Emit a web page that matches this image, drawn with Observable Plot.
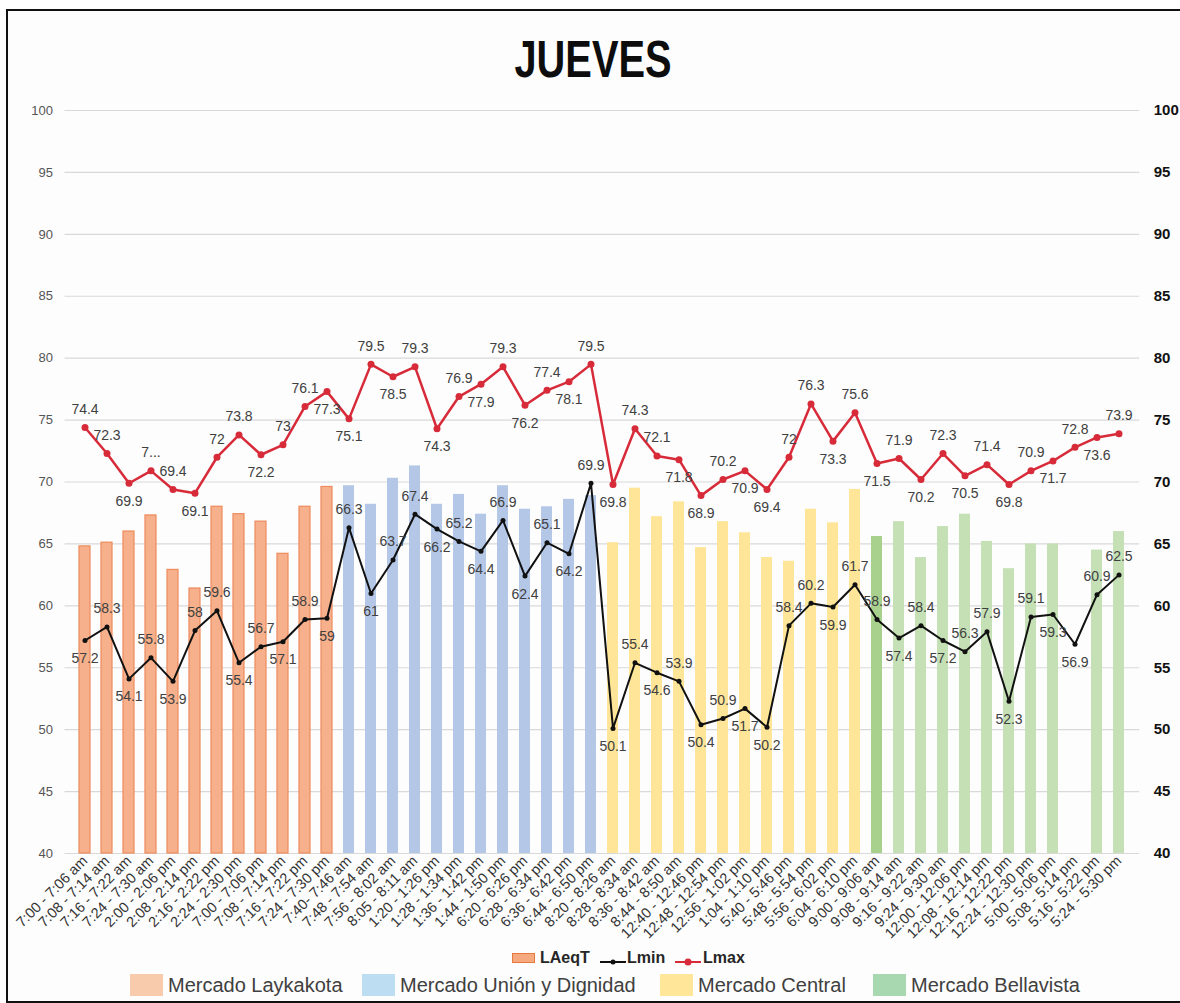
<!DOCTYPE html>
<html><head><meta charset="utf-8">
<script src="https://cdn.jsdelivr.net/npm/d3@7"></script>
<script src="https://cdn.jsdelivr.net/npm/@observablehq/plot@0.6"></script>
<style>
body{margin:0;background:#fff;font-family:"Liberation Sans",Arial,sans-serif;}
#wrap{position:relative;width:1180px;height:1003px;overflow:hidden;background:#fff}
#frame{position:absolute;left:6px;top:9px;width:1190px;height:994px;border:2px solid #111;box-sizing:border-box;background:#fdfdfd}
#title{position:absolute;left:3px;width:1180px;top:34px;line-height:51px;text-align:center;font-weight:bold;font-size:51px;font-family:"Liberation Sans",Arial,sans-serif;transform:scaleX(0.78);color:#0d0d0d}
#chart{position:absolute;left:0;top:100px}
.lg{position:absolute;white-space:nowrap}
</style></head>
<body><div id="wrap"><div id="frame"></div><div id="title">JUEVES</div><div id="chart"></div><div id="legend"></div></div>
<script>
const title = "JUEVES";
const mercados = ["Mercado Laykakota","Mercado Unión y Dignidad","Mercado Central","Mercado Bellavista"];
const categorias = [
 "7:00 - 7:06 am","7:08 - 7:14 am","7:16 - 7:22 am","7:24 - 7:30 am","2:00 - 2:06 pm","2:08 - 2:14 pm","2:16 - 2:22 pm","2:24 - 2:30 pm","7:00 - 7:06 pm","7:08 - 7:14 pm","7:16 - 7:22 pm","7:24 - 7:30 pm",
 "7:40- 7:46 am","7:48 - 7:54 am","7:56 - 8:02 am","8:05 - 8:11 am","1:20 - 1:26 pm","1:28 - 1:34 pm","1:36 - 1:42 pm","1:44 - 1:50 pm","6:20 - 6:26 pm","6:28 - 6:34 pm","6:36 - 6:42 pm","6:44 - 6:50 pm",
 "8:20 - 8:26 am","8:28 - 8:34 am","8:36 - 8:42 am","8:44 - 8:50 am","12:40 - 12:46 pm","12:48 - 12:54 pm","12:56 - 1:02 pm","1:04 - 1:10 pm","5:40 - 5:46 pm","5:48 - 5:54 pm","5:56 - 6:02 pm","6:04 - 6:10 pm",
 "9:00 - 9:06 am","9:08 - 9:14 am","9:16 - 9:22 am","9:24 - 9:30 am","12:00 - 12:06 pm","12:08 - 12:14 pm","12:16 - 12:22 pm","12:24 - 12:30 pm","5:00 - 5:06 pm","5:08 - 5:14 pm","5:16 - 5:22 pm","5:24 - 5:30 pm"];
const laeqt = [64.8,65.1,66.0,67.3,62.9,61.4,68.0,67.4,66.8,64.2,68.0,69.6,
 69.7,68.2,70.3,71.3,68.2,69.0,67.4,69.7,67.8,68.0,68.6,68.9,
 65.1,69.5,67.2,68.4,64.7,66.8,65.9,63.9,63.6,67.8,66.7,69.4,
 65.6,66.8,63.9,66.4,67.4,65.2,63.0,65.0,65.0,null,64.5,66.0];
const lmin = [57.2,58.3,54.1,55.8,53.9,58,59.6,55.4,56.7,57.1,58.9,59,
 66.3,61,63.7,67.4,66.2,65.2,64.4,66.9,62.4,65.1,64.2,69.9,
 50.1,55.4,54.6,53.9,50.4,50.9,51.7,50.2,58.4,60.2,59.9,61.7,
 58.9,57.4,58.4,57.2,56.3,57.9,52.3,59.1,59.3,56.9,60.9,62.5];
const lmax = [74.4,72.3,69.9,70.9,69.4,69.1,72,73.8,72.2,73,76.1,77.3,
 75.1,79.5,78.5,79.3,74.3,76.9,77.9,79.3,76.2,77.4,78.1,79.5,
 69.8,74.3,72.1,71.8,68.9,70.2,70.9,69.4,72,76.3,73.3,75.6,
 71.5,71.9,70.2,72.3,70.5,71.4,69.8,70.9,71.7,72.8,73.6,73.9];
const lmaxTruncated = {3: "7..."};
const yTicks = [40,45,50,55,60,65,70,75,80,85,90,95,100];
const seriesNames = ["LAeqT","Lmin","Lmax"];

const perMarket = categorias.length / mercados.length;
const rows = categorias.map((c, i) => ({i, cat: c, mercado: mercados[Math.floor(i / perMarket)], laeqt: laeqt[i], lmin: lmin[i], lmax: lmax[i]}));
const barFill = {"Mercado Laykakota":"#F6B18C","Mercado Unión y Dignidad":"#B4C7E7","Mercado Central":"#FFE597","Mercado Bellavista":"#C5E0B4"};
const legendFill = {"Mercado Laykakota":"#F8CBAD","Mercado Unión y Dignidad":"#BDDDF3","Mercado Central":"#FFE699","Mercado Bellavista":"#A8D8B0"};
const RED = "#D72B3A";

// Layout constants for the chart
const W = 1180, H = 848, ML = 64.5, MR = 40.8, MT = 10, MB = 95, OFF = 18, FS = 14;
const step = (W - ML - MR) / categorias.length;
const pxPerUnit = (H - MT - MB) / 60;

// Label side: local minima prefer below, others above; greedy collision avoidance
const placed = [];
function collides(b) { return placed.some(p => Math.abs(p.x - b.x) < (p.w + b.w) / 2 && Math.abs(p.y - b.y) < 15); }
function layout(arr, texts) {
  return arr.map((v, i) => {
    const a = i > 0 ? arr[i-1] : null, b = i < arr.length-1 ? arr[i+1] : null;
    const pref = ((a == null || v < a) && (b == null || v < b)) ? 1 : -1;
    const t = texts[i], w = t.length * 7.6, x = i * step, y0 = (100 - v) * pxPerUnit;
    let s = pref;
    let box = {x, y: y0 + s * OFF, w};
    if (collides(box)) {
      const alt = {x, y: y0 - s * OFF, w};
      if (!collides(alt)) { s = -s; box = alt; }
    }
    placed.push(box);
    return {i, v, t, s};
  });
}
const lblMax = layout(lmax, lmax.map((v, i) => lmaxTruncated[i] ?? String(v)));
const lblMin = layout(lmin, lmin.map(String));
const labels = lblMax.concat(lblMin);
const lblStyle = {x: "i", y: "v", text: "t", fontSize: FS, fill: "#404040"};

const chart = Plot.plot({
  width: W, height: H,
  marginLeft: ML, marginRight: MR, marginTop: MT, marginBottom: MB,
  style: {background: "transparent", fontFamily: "Liberation Sans, Arial, sans-serif"},
  x: {type: "band", domain: d3.range(categorias.length), paddingInner: 0.48, paddingOuter: 0.24, axis: null, label: null},
  y: {domain: [40, 100], axis: null, label: null},
  marks: [
    Plot.ruleY(yTicks, {stroke: "#d9d9d9", strokeWidth: 1.2}),
    Plot.barY(rows.filter(r => r.laeqt != null), {x: "i", y1: 40, y2: "laeqt",
      fill: r => r.i === 36 ? "#A9D18E" : barFill[r.mercado],
      stroke: r => r.mercado === mercados[0] ? "#EE8A5C" : "none", strokeWidth: 1.2}),
    Plot.line(rows, {x: "i", y: "lmax", stroke: RED, strokeWidth: 2.5}),
    Plot.dot(rows, {x: "i", y: "lmax", fill: RED, r: 3.5}),
    Plot.line(rows, {x: "i", y: "lmin", stroke: "#111", strokeWidth: 2}),
    Plot.dot(rows, {x: "i", y: "lmin", fill: "#111", r: 2.5}),
    Plot.text(labels.filter(d => d.s < 0), {...lblStyle, dy: -OFF}),
    Plot.text(labels.filter(d => d.s > 0), {...lblStyle, dy: OFF}),
    Plot.axisY(yTicks, {anchor: "left", tickSize: 0, tickPadding: 12, fontSize: 13, fill: "#555", label: null}),
    Plot.axisY(yTicks, {anchor: "right", tickSize: 0, tickPadding: 14, fontSize: 15, fontWeight: "bold", fill: "#111", label: null}),
    Plot.axisX({tickSize: 0, tickPadding: 5, tickRotate: -45, fontSize: 14.5, fill: "#333", label: null, tickFormat: i => categorias[i]})
  ]
});
document.getElementById("chart").appendChild(chart);

// Legend
const lg = document.getElementById("legend");
function add(html, css) { const d = document.createElement("div"); d.className = "lg"; d.style.cssText = css; d.innerHTML = html; lg.appendChild(d); return d; }
// row 1: series
add("", "left:512px;top:953px;width:21px;height:8px;background:#F4A97E;border:1.5px solid #E9783F;");
add(seriesNames[0], "left:540px;top:948px;line-height:20px;font-size:16px;font-weight:bold;color:#262626;");
add('<svg width="26" height="10"><line x1="0" y1="5" x2="26" y2="5" stroke="#111" stroke-width="2"/><circle cx="13" cy="5" r="2.5" fill="#111"/></svg>', "left:600px;top:953px;");
add(seriesNames[1], "left:627px;top:948px;line-height:20px;font-size:16px;font-weight:bold;color:#262626;");
add('<svg width="26" height="10"><line x1="0" y1="5" x2="26" y2="5" stroke="' + RED + '" stroke-width="2"/><circle cx="13" cy="5" r="3.5" fill="' + RED + '"/></svg>', "left:675px;top:953px;");
add(seriesNames[2], "left:703px;top:948px;line-height:20px;font-size:16px;font-weight:bold;color:#262626;");
// row 2: markets
const mx = [130, 362, 660, 873];
mercados.forEach((m, k) => {
  add("", `left:${mx[k]}px;top:974px;width:33px;height:22px;background:${legendFill[m]};`);
  add(m, `left:${mx[k] + 38}px;top:973px;line-height:24px;font-size:20px;color:#404040;`);
});
</script></body></html>
